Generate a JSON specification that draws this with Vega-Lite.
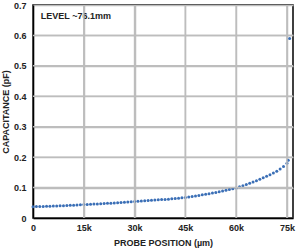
{
  "$schema": "https://vega.github.io/schema/vega-lite/v6.json",
  "width": 260,
  "height": 213,
  "autosize": "none",
  "padding": {"left": 33, "top": 5, "right": 7, "bottom": 32},
  "background": "white",
  "config": {
    "view": {"stroke": "black", "strokeWidth": 1.5},
    "font": "Liberation Sans",
    "axis": {
      "labelFont": "Liberation Sans", "labelFontWeight": "bold", "labelFontSize": 9, "labelColor": "#222",
      "titleFont": "Liberation Sans", "titleFontWeight": "bold", "titleFontSize": 9, "titleColor": "#222",
      "domainColor": "black", "domainWidth": 1.5, "ticks": false, "labelOverlap": false,
      "grid": true, "gridColor": "#bdbdbd", "gridWidth": 1.5, "gridOpacity": 1
    }
  },
  "datasets": {
    "xgrid": [{"gx": 15000}, {"gx": 30000}, {"gx": 45000}, {"gx": 60000}, {"gx": 75000}],
    "ygrid": [{"gy": 0.1}, {"gy": 0.2}, {"gy": 0.3}, {"gy": 0.4}, {"gy": 0.5}, {"gy": 0.6}]
  },
  "layer": [
    {
      "data": {"values": [
        {"pos": 0, "cap": 0.0370}, {"pos": 1000, "cap": 0.0374}, {"pos": 2000, "cap": 0.0378}, {"pos": 3000, "cap": 0.0382},
        {"pos": 4000, "cap": 0.0386}, {"pos": 5000, "cap": 0.0390}, {"pos": 6000, "cap": 0.0394}, {"pos": 7000, "cap": 0.0398},
        {"pos": 8000, "cap": 0.0402}, {"pos": 9000, "cap": 0.0406}, {"pos": 10000, "cap": 0.0410}, {"pos": 11000, "cap": 0.0416},
        {"pos": 12000, "cap": 0.0422}, {"pos": 13000, "cap": 0.0428}, {"pos": 14000, "cap": 0.0434}, {"pos": 15000, "cap": 0.0440},
        {"pos": 16000, "cap": 0.0446}, {"pos": 17000, "cap": 0.0452}, {"pos": 18000, "cap": 0.0458}, {"pos": 19000, "cap": 0.0464},
        {"pos": 20000, "cap": 0.0470}, {"pos": 21000, "cap": 0.0476}, {"pos": 22000, "cap": 0.0482}, {"pos": 23000, "cap": 0.0488},
        {"pos": 24000, "cap": 0.0494}, {"pos": 25000, "cap": 0.0500}, {"pos": 26000, "cap": 0.0508}, {"pos": 27000, "cap": 0.0516},
        {"pos": 28000, "cap": 0.0524}, {"pos": 29000, "cap": 0.0532}, {"pos": 30000, "cap": 0.0540}, {"pos": 31000, "cap": 0.0548},
        {"pos": 32000, "cap": 0.0556}, {"pos": 33000, "cap": 0.0564}, {"pos": 34000, "cap": 0.0572}, {"pos": 35000, "cap": 0.0580},
        {"pos": 36000, "cap": 0.0588}, {"pos": 37000, "cap": 0.0596}, {"pos": 38000, "cap": 0.0604}, {"pos": 39000, "cap": 0.0612},
        {"pos": 40000, "cap": 0.0620}, {"pos": 41000, "cap": 0.0630}, {"pos": 42000, "cap": 0.0640}, {"pos": 43000, "cap": 0.0650},
        {"pos": 44000, "cap": 0.0662}, {"pos": 45000, "cap": 0.0675}, {"pos": 46000, "cap": 0.0691}, {"pos": 47000, "cap": 0.0707},
        {"pos": 48000, "cap": 0.0724}, {"pos": 49000, "cap": 0.0742}, {"pos": 50000, "cap": 0.0760}, {"pos": 51000, "cap": 0.0779},
        {"pos": 52000, "cap": 0.0798}, {"pos": 53000, "cap": 0.0818}, {"pos": 54000, "cap": 0.0839}, {"pos": 55000, "cap": 0.0860},
        {"pos": 56000, "cap": 0.0885}, {"pos": 57000, "cap": 0.0910}, {"pos": 58000, "cap": 0.0935}, {"pos": 59000, "cap": 0.0962},
        {"pos": 60000, "cap": 0.0990}, {"pos": 61000, "cap": 0.1025}, {"pos": 62000, "cap": 0.1060}, {"pos": 63000, "cap": 0.1100},
        {"pos": 64000, "cap": 0.1140}, {"pos": 65000, "cap": 0.1180}, {"pos": 66000, "cap": 0.1225}, {"pos": 67000, "cap": 0.1270},
        {"pos": 68000, "cap": 0.1320}, {"pos": 69000, "cap": 0.1370}, {"pos": 70000, "cap": 0.1420}, {"pos": 71000, "cap": 0.1480},
        {"pos": 72000, "cap": 0.1540}, {"pos": 73000, "cap": 0.1610}, {"pos": 74000, "cap": 0.1690}, {"pos": 75000, "cap": 0.1800},
        {"pos": 75400, "cap": 0.1900}, {"pos": 75800, "cap": 0.5900}
      ]},
      "mark": {"type": "point", "filled": true, "size": 9, "color": "#3b6fb6", "opacity": 1},
      "encoding": {
        "x": {"field": "pos", "type": "quantitative", "scale": {"domain": [0, 76800], "nice": false},
          "axis": {"values": [0, 15000, 30000, 45000, 60000, 75000], "labelExpr": "datum.value == 0 ? '0' : datum.value / 1000 + 'k'",
            "title": "PROBE POSITION (µm)", "labelPadding": 5, "titlePadding": 6, "labelFlush": false}},
        "y": {"field": "cap", "type": "quantitative", "scale": {"domain": [0, 0.7], "nice": false},
          "axis": {"values": [0, 0.1, 0.2, 0.3, 0.4, 0.5, 0.6, 0.7], "labelExpr": "datum.value == 0 ? '0' : format(datum.value, '.1f')",
            "title": "CAPACITANCE (pF)", "labelPadding": 7, "titlePadding": 3, "labelFlush": false}}
      }
    },
    {
      "data": {"values": [{"pos": 2300, "cap": 0.663, "label": "LEVEL ~76.1mm"}]},
      "mark": {"type": "text", "align": "left", "baseline": "middle", "font": "Liberation Sans", "fontWeight": "bold", "fontSize": 9, "color": "#222"},
      "encoding": {
        "x": {"field": "pos", "type": "quantitative", "scale": {"domain": [0, 76800], "nice": false},
          "axis": {"values": [0, 15000, 30000, 45000, 60000, 75000], "labelExpr": "datum.value == 0 ? '0' : datum.value / 1000 + 'k'",
            "title": "PROBE POSITION (µm)", "labelPadding": 5, "titlePadding": 6, "labelFlush": false}},
        "y": {"field": "cap", "type": "quantitative", "scale": {"domain": [0, 0.7], "nice": false},
          "axis": {"values": [0, 0.1, 0.2, 0.3, 0.4, 0.5, 0.6, 0.7], "labelExpr": "datum.value == 0 ? '0' : format(datum.value, '.1f')",
            "title": "CAPACITANCE (pF)", "labelPadding": 7, "titlePadding": 3, "labelFlush": false}},
        "text": {"field": "label"}
      }
    },
    {
      "data": {"name": "xgrid"},
      "mark": {"type": "rule", "color": "#bdbdbd", "strokeWidth": 1.5},
      "encoding": {
        "x": {"field": "gx", "type": "quantitative", "scale": {"domain": [0, 76800], "nice": false},
          "axis": {"values": [0, 15000, 30000, 45000, 60000, 75000], "labelExpr": "datum.value == 0 ? '0' : datum.value / 1000 + 'k'",
            "title": "PROBE POSITION (µm)", "labelPadding": 5, "titlePadding": 6, "labelFlush": false}}
      }
    },
    {
      "data": {"name": "ygrid"},
      "mark": {"type": "rule", "color": "#bdbdbd", "strokeWidth": 1.5},
      "encoding": {
        "y": {"field": "gy", "type": "quantitative", "scale": {"domain": [0, 0.7], "nice": false},
          "axis": {"values": [0, 0.1, 0.2, 0.3, 0.4, 0.5, 0.6, 0.7], "labelExpr": "datum.value == 0 ? '0' : format(datum.value, '.1f')",
            "title": "CAPACITANCE (pF)", "labelPadding": 7, "titlePadding": 3, "labelFlush": false}}
      }
    }
  ]
}
